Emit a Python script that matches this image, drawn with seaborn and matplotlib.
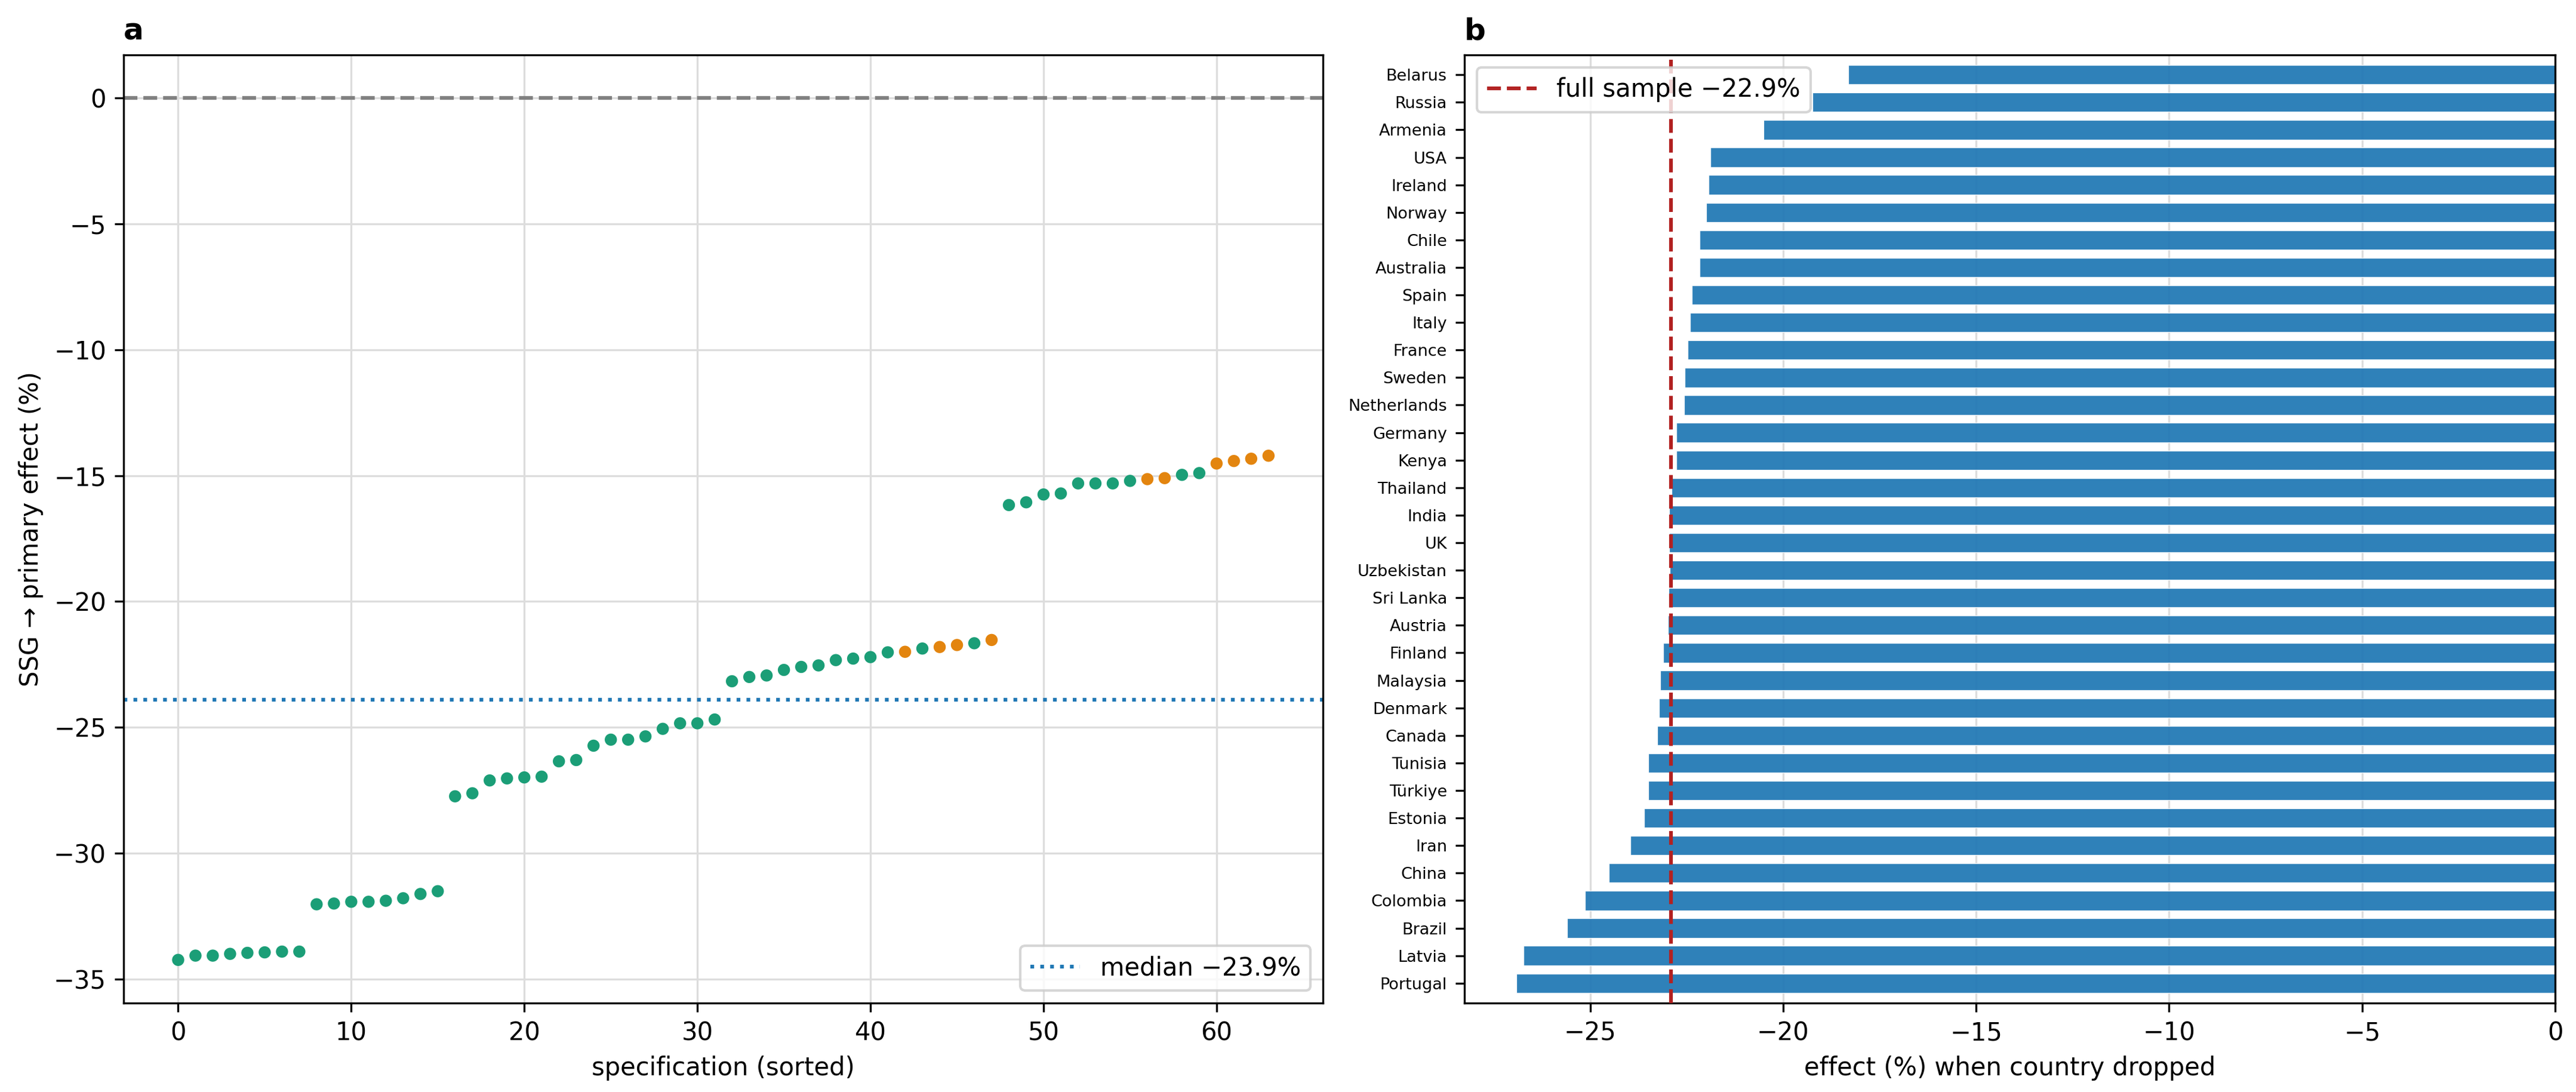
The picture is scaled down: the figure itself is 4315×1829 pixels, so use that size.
import matplotlib
matplotlib.use("Agg")
import matplotlib.pyplot as plt
import numpy as np
import pandas as pd
import seaborn as sns

plt.rcParams["font.family"] = ["DejaVu Sans"]

# panel a: specification curve (sorted estimates)
spec_effect = [
    -34.24, -34.07, -34.07, -34.00, -33.96, -33.94, -33.91, -33.91,
    -32.03, -32.00, -31.93, -31.93, -31.89, -31.79, -31.62, -31.51,
    -27.74, -27.62, -27.11, -27.03, -26.99, -26.96, -26.35, -26.30,
    -25.73, -25.49, -25.49, -25.36, -25.06, -24.84, -24.84, -24.69,
    -23.17, -23.00, -22.94, -22.72, -22.60, -22.54, -22.33, -22.27,
    -22.21, -22.02, -22.00, -21.87, -21.81, -21.73, -21.66, -21.53,
    -16.17, -16.06, -15.75, -15.71, -15.31, -15.31, -15.31, -15.21,
    -15.14, -15.10, -14.97, -14.90, -14.52, -14.42, -14.33, -14.21,
]
alt_specs = [42, 44, 45, 47, 56, 57, 60, 61, 62, 63]
median_effect = -23.9

# panel b: leave-one-country-out
countries = [
    "Belarus", "Russia", "Armenia", "USA", "Ireland", "Norway", "Chile",
    "Australia", "Spain", "Italy", "France", "Sweden", "Netherlands",
    "Germany", "Kenya", "Thailand", "India", "UK", "Uzbekistan", "Sri Lanka",
    "Austria", "Finland", "Malaysia", "Denmark", "Canada", "Tunisia",
    "Türkiye", "Estonia", "Iran", "China", "Colombia", "Brazil", "Latvia",
    "Portugal",
]
drop_effect = [
    -18.31, -19.24, -20.51, -21.88, -21.93, -22.00, -22.16, -22.16, -22.37,
    -22.41, -22.48, -22.55, -22.57, -22.76, -22.77, -22.89, -22.95, -22.95,
    -22.94, -22.97, -22.99, -23.11, -23.18, -23.21, -23.26, -23.49, -23.49,
    -23.60, -23.95, -24.51, -25.14, -25.59, -26.72, -26.91,
]
full_effect = -22.9

GREEN = "#1b9e77"
ORANGE = "#e3850f"
BLUE = "#1f77b4"
GRID = "#dddddd"

spec = pd.DataFrame({
    "spec": np.arange(len(spec_effect)),
    "effect": spec_effect,
})
spec["kind"] = np.where(spec["spec"].isin(alt_specs), "alt", "main")

drops = pd.DataFrame({"country": countries, "effect": drop_effect})

fig = plt.figure(figsize=(4315 / 300, 1829 / 300), dpi=300)
ax1 = fig.add_axes([0.048, 0.0815, 0.4656, 0.8682])
ax2 = fig.add_axes([0.5685, 0.0815, 0.4234, 0.8682])

# ---- a ----
ax1.axhline(0, color="grey", ls="--", lw=1.5, zorder=2)
sns.scatterplot(data=spec, x="spec", y="effect", hue="kind",
                palette={"main": GREEN, "alt": ORANGE}, s=24, linewidth=0,
                legend=False, zorder=3, ax=ax1)
ax1.axhline(median_effect, color=BLUE, ls=":", lw=1.5,
            label=f"median \u2212{abs(median_effect):.1f}%", zorder=2)
ax1.grid(True, color=GRID, lw=0.8)
ax1.set_axisbelow(True)
ax1.set_xlabel("specification (sorted)")
ax1.set_ylabel("SSG \u2192 primary effect (%)")
ax1.set_title("a", loc="left", fontweight="bold", fontsize=12)
ax1.legend(loc="lower right")

# ---- b ----
sns.barplot(data=drops, x="effect", y="country", order=countries,
            color=BLUE, saturation=1, alpha=0.93, width=0.7,
            edgecolor="white", linewidth=0.3, ax=ax2)
ax2.axvline(full_effect, color="firebrick", ls="--", lw=1.5,
            label=f"full sample \u2212{abs(full_effect):.1f}%", zorder=3)
ax2.set_ylim(len(countries) - 0.28, -0.72)
ax2.set_xlim(right=0)
ax2.grid(True, axis="x", color=GRID, lw=0.8)
ax2.set_axisbelow(True)
ax2.tick_params(axis="y", labelsize=6.5)
ax2.set_xlabel("effect (%) when country dropped")
ax2.set_ylabel("")
ax2.set_title("b", loc="left", fontweight="bold", fontsize=12)
ax2.legend(loc="upper left")

fig.savefig("out.png", dpi=300)
